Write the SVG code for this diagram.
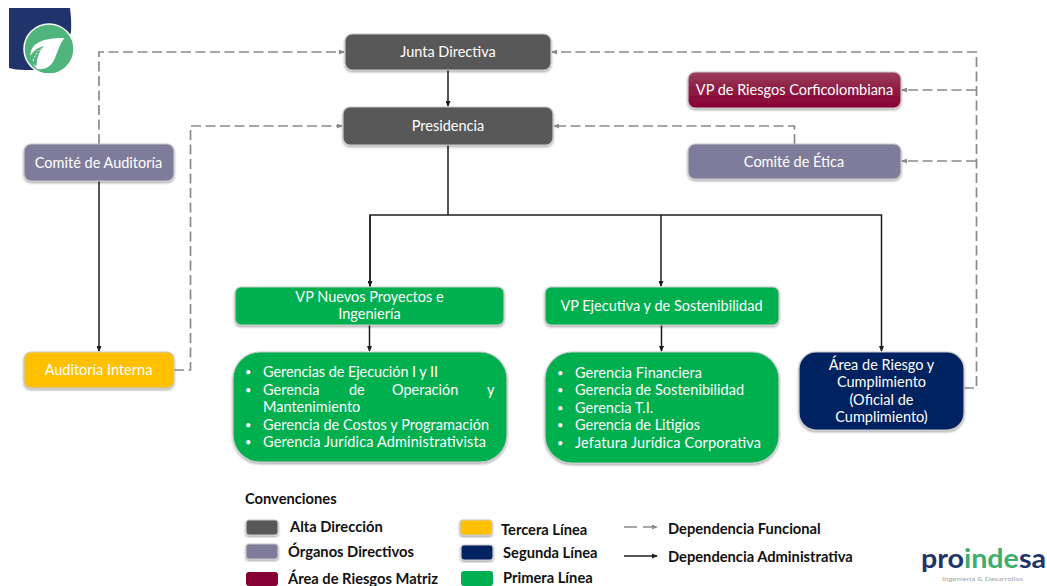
<svg xmlns="http://www.w3.org/2000/svg" width="1047" height="586" viewBox="0 0 1047 586">
<style>
text{font-family:Lato,"Open Sans","Liberation Sans",sans-serif}
.n{fill:#fff;font-size:14.5px;text-anchor:middle}
.l{fill:#fff;font-size:14.5px}
.b{fill:#fff;font-size:11px}
.k{fill:#111;font-size:14.7px;font-weight:700}
.s{stroke:#c9c9c9;stroke-width:1.2}
.d{fill:none;stroke:#8a8a8a;stroke-width:1.7;stroke-dasharray:10 4.500}
.a{fill:none;stroke:#1c1c1c;stroke-width:1.5}
</style>
<defs>
<filter id="sh" x="-10%" y="-15%" width="120%" height="135%"><feDropShadow dx="0" dy="1.5" stdDeviation="1" flood-color="#000" flood-opacity=".35"/></filter>
<marker id="ag" markerWidth="6" markerHeight="5" refX="5" refY="2.500" orient="auto" markerUnits="userSpaceOnUse"><path d="M0 0L6 2.500L0 5z" fill="#8a8a8a"/></marker>
<marker id="ab" markerWidth="6" markerHeight="5" refX="5" refY="2.500" orient="auto" markerUnits="userSpaceOnUse"><path d="M0 0L6 2.500L0 5z" fill="#1c1c1c"/></marker>
<linearGradient id="wine" x1="0" y1="0" x2="0" y2="1"><stop offset="0" stop-color="#9a3f5c"/><stop offset=".5" stop-color="#8f1a42"/><stop offset="1" stop-color="#870033"/></linearGradient>
</defs>
<g id="logo-top">
<path d="M9 8H70C71 16 71.500 24 71 32L60 70H25C18 70 13 69 9 68Z" fill="#21336b"/>
<circle cx="49" cy="49" r="25" fill="#50b57c" stroke="#fff" stroke-width="1.500"/>
<path d="M64.500 38C52 37.500 38 40 33 47C28 53 31 62 37 69C46 70 52 66 55 58C58 51 60 43 64.500 38Z" fill="#fff"/>
<path d="M29 59C31 53 36 48 44 46C39 51 37 58 36.500 66C33 64 30 62 29 59Z" fill="#50b57c"/>
<path d="M33 61C35 55 38 51 41 48.500" fill="none" stroke="#fff" stroke-width="1" stroke-dasharray="2 1.500"/>
</g>
<g id="connectors">
<path class="d" d="M99 144V52H344" marker-end="url(#ag)"/>
<path class="d" d="M174 370H190.500V126H342" marker-end="url(#ag)"/>
<path class="d" d="M794.500 144V126H554" marker-end="url(#ag)"/>
<path class="d" d="M964 388H976.500V52H552" marker-end="url(#ag)"/>
<path class="d" d="M976 90H902" marker-end="url(#ag)"/>
<path class="d" d="M976 161H902" marker-end="url(#ag)"/>
<path class="a" d="M448 70V106" marker-end="url(#ab)"/>
<path class="a" d="M448 145V215"/>
<path class="a" d="M370 287V215H881.500V351" marker-end="url(#ab)"/>
<path class="a" d="M661 215V286" marker-end="url(#ab)"/>
<path class="a" d="M370 215V286" marker-end="url(#ab)"/>
<path class="a" d="M99 181V351" marker-end="url(#ab)"/>
<path class="a" d="M369.500 325V351" marker-end="url(#ab)"/>
<path class="a" d="M661.500 325V351" marker-end="url(#ab)"/>
</g>
<g id="junta"><rect x="345" y="34" width="206" height="36" rx="7" fill="#595959" class="s" filter="url(#sh)"/><text class="n" x="448" y="57">Junta Directiva</text></g>
<g id="presidencia"><rect x="343" y="107" width="210" height="38" rx="7" fill="#595959" class="s" filter="url(#sh)"/><text class="n" x="448" y="131">Presidencia</text></g>
<g id="vp-riesgos"><rect x="688" y="72" width="213" height="36" rx="7" fill="url(#wine)" class="s" filter="url(#sh)"/><text class="n" x="794.500" y="95">VP de Riesgos Corficolombiana</text></g>
<g id="comite-etica"><rect x="688" y="144" width="213" height="35" rx="7" fill="#7f7b9b" class="s" filter="url(#sh)"/><text class="n" x="794" y="167">Comité de Ética</text></g>
<g id="comite-auditoria"><rect x="24" y="144" width="150" height="37" rx="7" fill="#7f7b9b" class="s" filter="url(#sh)"/><text class="n" x="98.500" y="168">Comité de Auditoría</text></g>
<g id="auditoria-interna"><rect x="24" y="352" width="150" height="36" rx="7" fill="#ffc000" class="s" filter="url(#sh)"/><text class="n" x="98.500" y="375">Auditoría Interna</text></g>
<g id="vp-nuevos"><rect x="235" y="287" width="269" height="38" rx="6" fill="#00b050" class="s" filter="url(#sh)"/><text class="n" x="369.500" y="302">VP Nuevos Proyectos e</text><text class="n" x="369.500" y="319">Ingeniería</text></g>
<g id="vp-ejecutiva"><rect x="545" y="287" width="234" height="38" rx="6" fill="#00b050" class="s" filter="url(#sh)"/><text class="n" x="661.500" y="311">VP Ejecutiva y de Sostenibilidad</text></g>
<g id="gerencias-1"><rect x="233" y="352" width="274" height="110" rx="27" fill="#00b050" class="s" filter="url(#sh)"/>
<text class="b" x="245" y="376">•</text><text class="l" x="263" y="377" textLength="175">Gerencias de Ejecución I y II</text>
<text class="b" x="245" y="394">•</text><text class="l" x="263" y="395">Gerencia</text><text class="l" x="349" y="395">de</text><text class="l" x="392" y="395">Operación</text><text class="l" x="487" y="395">y</text>
<text class="l" x="263" y="412">Mantenimiento</text>
<text class="b" x="245" y="429">•</text><text class="l" x="263" y="430" textLength="226">Gerencia de Costos y Programación</text>
<text class="b" x="245" y="446">•</text><text class="l" x="263" y="447" textLength="223">Gerencia Jurídica Administrativista</text></g>
<g id="gerencias-2"><rect x="545" y="352" width="234" height="111" rx="27" fill="#00b050" class="s" filter="url(#sh)"/>
<text class="b" x="557" y="377">•</text><text class="l" x="575" y="378" textLength="127">Gerencia Financiera</text>
<text class="b" x="557" y="394">•</text><text class="l" x="575" y="395" textLength="169">Gerencia de Sostenibilidad</text>
<text class="b" x="557" y="412">•</text><text class="l" x="575" y="413">Gerencia T.I.</text>
<text class="b" x="557" y="429">•</text><text class="l" x="575" y="430" textLength="125">Gerencia de Litigios</text>
<text class="b" x="557" y="447">•</text><text class="l" x="575" y="448" textLength="186">Jefatura Jurídica Corporativa</text></g>
<g id="area-riesgo"><rect x="799" y="352" width="165" height="78" rx="17" fill="#002060" class="s" filter="url(#sh)"/>
<text class="n" x="881.500" y="370">Área de Riesgo y</text><text class="n" x="881.500" y="387">Cumplimiento</text><text class="n" x="881.500" y="405">(Oficial de</text><text class="n" x="881.500" y="422">Cumplimiento)</text></g>
<g id="legend">
<text class="k" x="245" y="504">Convenciones</text>
<rect x="246" y="520" width="32" height="15" rx="3" fill="#595959" class="s" filter="url(#sh)"/><text class="k" x="290" y="532">Alta Dirección</text>
<rect x="246" y="544" width="32" height="15" rx="3" fill="#7f7b9b" class="s" filter="url(#sh)"/><text class="k" x="288" y="557">Órganos Directivos</text>
<rect x="246" y="572" width="32" height="14" rx="3" fill="#870033"/><text class="k" x="288" y="584">Área de Riesgos Matriz</text>
<rect x="460" y="520" width="32" height="15" rx="3" fill="#ffc000" class="s" filter="url(#sh)"/><text class="k" x="501" y="535">Tercera Línea</text>
<rect x="461" y="545" width="32" height="15" rx="3" fill="#002060" class="s" filter="url(#sh)"/><text class="k" x="503" y="558">Segunda Línea</text>
<rect x="461" y="571" width="32" height="15" rx="3" fill="#00b050"/><text class="k" x="503" y="583">Primera Línea</text>
<path class="d" d="M624 527H657" style="stroke-dasharray:13 6" marker-end="url(#ag)"/>
<path class="a" d="M624 556H657" marker-end="url(#ab)"/>
<text class="k" x="668" y="534">Dependencia Funcional</text>
<text class="k" x="668" y="562">Dependencia Administrativa</text>
</g>
<g id="logo-bottom">
<text x="921" y="568" font-size="26" font-weight="700" fill="#21336b" textLength="125" lengthAdjust="spacingAndGlyphs">pro<tspan fill="#3fae6c">inde</tspan>sa</text>
<text x="942" y="581" font-size="6" fill="#a2a6aa" textLength="81" lengthAdjust="spacingAndGlyphs">Ingeniería &amp; Desarrollos</text>
</g>
</svg>
